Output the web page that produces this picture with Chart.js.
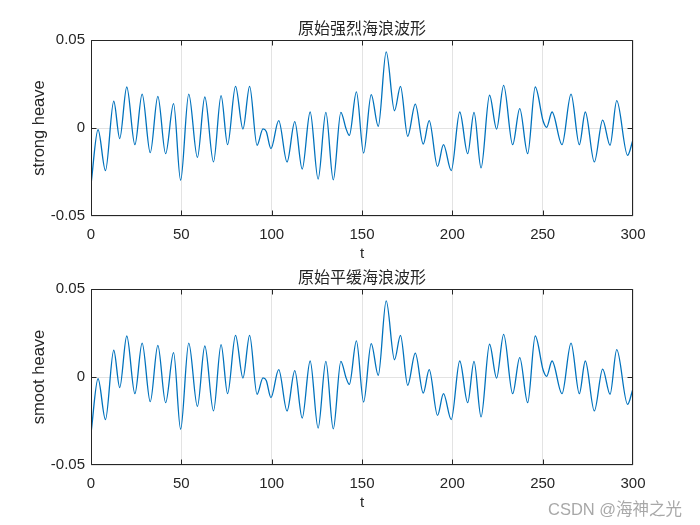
<!DOCTYPE html>
<html>
<head>
<meta charset="utf-8">
<script src="https://cdn.jsdelivr.net/npm/chart.js@4"></script>
<style>
  html, body { margin: 0; padding: 0; background: #ffffff; }
  #wrap { position: relative; width: 700px; height: 525px; background: #ffffff; overflow: hidden; }
  canvas { position: absolute; left: 0; }
  #c1 { top: 0px; }
  #c2 { top: 249px; }
  #wm { position: absolute; left: 548px; top: 496px; font-family: "Liberation Sans", "Noto Sans CJK SC", sans-serif; font-size: 16.5px; color: #a8a8a8; white-space: nowrap; }
</style>
</head>
<body>
<div id="wrap">
  <canvas id="c1" width="700" height="263"></canvas>
  <canvas id="c2" width="700" height="263"></canvas>
  <div id="wm">CSDN @海神之光</div>
</div>
<script>
// ---- data (turning points of the wave) ----
const strongT = [0, 3.9, 8.0, 12.6, 15.9, 19.8, 24.3, 28.3, 32.8, 37.0, 41.3, 45.7, 49.6, 54.1, 58.9, 63.0, 67.8, 72.0, 75.6, 80.0, 84.1, 87.8, 91.9, 95.2, 97.0, 99.6, 103.9, 108.5, 112.8, 116.9, 121.3, 125.7, 130.0, 134.1, 138.3, 141.2, 143.0, 146.9, 150.9, 155.1, 159.0, 163.4, 168.0, 171.3, 175.3, 179.5, 183.9, 187.2, 191.8, 195.1, 199.4, 204.1, 208.5, 212.0, 215.9, 220.6, 224.5, 228.4, 233.4, 237.3, 241.7, 245.9, 250.3, 252.2, 255.2, 260.7, 265.7, 270.3, 273.6, 278.6, 283.2, 287.3, 291.0, 297.0, 300];
const strongHeave = [-0.032, -0.001, -0.0242, 0.0152, -0.006, 0.0233, -0.0095, 0.0193, -0.014, 0.018, -0.0146, 0.0138, -0.0297, 0.0193, -0.0167, 0.0176, -0.0193, 0.0184, -0.0095, 0.0237, -0.0006, 0.0237, -0.0098, -0.0005, -0.002, -0.0117, 0.0042, -0.0193, 0.0036, -0.0233, 0.0091, -0.029, 0.0089, -0.0295, 0.0089, -0.0005, -0.0042, 0.0205, -0.0142, 0.019, 0.001, 0.0432, 0.0098, 0.0237, -0.0047, 0.0136, -0.0091, 0.0042, -0.0218, -0.0095, -0.0242, 0.0091, -0.0146, 0.0089, -0.0227, 0.0186, -0.0006, 0.0242, -0.0095, 0.011, -0.0146, 0.0233, 0.0038, 0.0004, 0.0091, -0.0095, 0.0193, -0.0095, 0.0091, -0.0193, 0.0045, -0.0098, 0.0155, -0.0155, -0.0066];
const smoothT = [0, 3.9, 8.0, 12.6, 15.9, 19.8, 24.3, 28.3, 32.8, 37.0, 41.3, 45.7, 49.6, 54.1, 58.9, 63.0, 67.8, 72.0, 75.6, 80.0, 84.1, 87.8, 91.9, 95.2, 97.0, 99.6, 103.9, 108.5, 112.8, 116.9, 121.3, 125.7, 130.0, 134.1, 138.3, 141.2, 143.0, 146.9, 150.9, 155.1, 159.0, 163.4, 168.0, 171.3, 175.3, 179.5, 183.9, 187.2, 191.8, 195.1, 199.4, 204.1, 208.5, 212.0, 215.9, 220.6, 224.5, 228.4, 233.4, 237.3, 241.7, 245.9, 250.3, 252.2, 255.2, 260.7, 265.7, 270.3, 273.6, 278.6, 283.2, 287.3, 291.0, 297.0, 300];
const smoothHeave = [-0.032, -0.001, -0.0242, 0.0152, -0.006, 0.0233, -0.0095, 0.0193, -0.014, 0.018, -0.0146, 0.0138, -0.0297, 0.0193, -0.0167, 0.0176, -0.0193, 0.0184, -0.0095, 0.0237, -0.0006, 0.0237, -0.0098, -0.0005, -0.002, -0.0117, 0.0042, -0.0193, 0.0036, -0.0233, 0.0091, -0.029, 0.0089, -0.0295, 0.0089, -0.0005, -0.0042, 0.0205, -0.0142, 0.019, 0.001, 0.0432, 0.0098, 0.0237, -0.0047, 0.0136, -0.0091, 0.0042, -0.0218, -0.0095, -0.0242, 0.0091, -0.0146, 0.0089, -0.0227, 0.0186, -0.0006, 0.0242, -0.0095, 0.011, -0.0146, 0.0233, 0.0038, 0.0004, 0.0091, -0.0095, 0.0193, -0.0095, 0.0091, -0.0193, 0.0045, -0.0098, 0.0155, -0.0155, -0.0066];
const xTicks = [0, 50, 100, 150, 200, 250, 300];
const yTicks = [-0.05, 0, 0.05];
const yTickLabels = ['-0.05', '0', '0.05'];
const titles = ['原始强烈海浪波形', '原始平缓海浪波形'];
const yLabels = ['strong heave', 'smoot heave'];
const xLabel = 't';

// ---- styling ----
const LATIN = '"Liberation Sans", Arial, sans-serif';
const CJK = '"Noto Sans CJK SC", sans-serif';

const boxPlugin = {
  id: 'matlabBox',
  afterDraw(chart, args, opts) {
    const { ctx, chartArea: a, scales } = chart;
    ctx.save();
    ctx.strokeStyle = '#262626';
    ctx.lineWidth = 1;
    ctx.beginPath();
    const L = Math.round(a.left) + 0.5, R = Math.round(a.right) - 0.5;
    const T = Math.round(a.top) + 0.5, B = Math.round(a.bottom) - 0.5;
    ctx.rect(L, T, R - L, B - T);
    const len = 5;
    xTicks.forEach(v => {
      let x = Math.round(scales.x.getPixelForValue(v)) + 0.5;
      x = Math.min(Math.max(x, L), R);
      ctx.moveTo(x, B); ctx.lineTo(x, B - len);
      ctx.moveTo(x, T); ctx.lineTo(x, T + len);
    });
    yTicks.forEach(v => {
      let y = Math.round(scales.y.getPixelForValue(v)) + 0.5;
      y = Math.min(Math.max(y, T), B);
      ctx.moveTo(L, y); ctx.lineTo(L + len, y);
      ctx.moveTo(R, y); ctx.lineTo(R - len, y);
    });
    ctx.stroke();
    // axes title centred over the plot box
    ctx.fillStyle = '#262626';
    ctx.font = '16px ' + CJK;
    ctx.textAlign = 'center';
    ctx.textBaseline = 'middle';
    ctx.fillText(opts.text, (a.left + a.right) / 2, 28);
    ctx.restore();
  }
};

function makeChart(id, tArr, hArr, title, yLabel) {
  const pts = tArr.map((t, i) => ({ x: t, y: hArr[i] }));
  return new Chart(document.getElementById(id), {
    type: 'line',
    data: { datasets: [{ data: pts, borderColor: '#0072BD', borderWidth: 1.3, pointRadius: 0, fill: false, cubicInterpolationMode: 'monotone' }] },
    options: {
      responsive: false,
      animation: false,
      devicePixelRatio: 1,
      layout: { padding: { left: 0, right: 67, top: 40, bottom: 0 } },
      plugins: {
        legend: { display: false },
        tooltip: { enabled: false },
        title: { display: false },
        matlabBox: { text: title }
      },
      scales: {
        x: {
          type: 'linear', min: 0, max: 300,
          afterFit(s) { s.height = 47; },
          afterBuildTicks(s) { s.ticks = xTicks.map(v => ({ value: v })); },
          ticks: { color: '#262626', font: { family: LATIN, size: 15 }, padding: 10, maxRotation: 0, autoSkip: false },
          grid: { color: '#e3e3e3', drawTicks: false, lineWidth: 1 },
          border: { display: false },
          title: { display: true, text: xLabel, color: '#262626', font: { family: LATIN, size: 15 }, padding: { top: 0, bottom: 0 } }
        },
        y: {
          type: 'linear', min: -0.05, max: 0.05,
          afterFit(s) { s.width = 91; },
          afterBuildTicks(s) { s.ticks = yTicks.map(v => ({ value: v })); },
          ticks: { color: '#262626', font: { family: LATIN, size: 15 }, padding: 6, autoSkip: false,
            callback(v) { const i = yTicks.indexOf(v); return i >= 0 ? yTickLabels[i] : ''; } },
          grid: { color: '#e3e3e3', drawTicks: false, lineWidth: 1 },
          border: { display: false },
          title: { display: true, text: yLabel, color: '#262626', font: { family: LATIN, size: 16.5 }, padding: { top: 30, bottom: 0 } }
        }
      }
    },
    plugins: [boxPlugin]
  });
}

makeChart('c1', strongT, strongHeave, titles[0], yLabels[0]);
makeChart('c2', smoothT, smoothHeave, titles[1], yLabels[1]);
</script>
</body>
</html>
